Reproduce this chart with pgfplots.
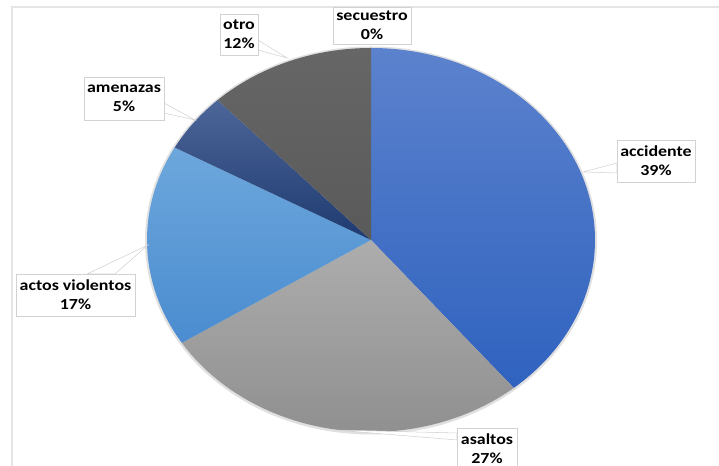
\documentclass[border=0pt]{standalone}
\usepackage{fontspec}
\setmainfont{Carlito}[FakeStretch=1.17]
\usepackage{pgfplots}
\pgfplotsset{compat=1.18}
\usepackage{pgfplotstable}

% slice colours: top / bottom of a vertical gradient
\definecolor{slice0T}{HTML}{5C82CD}
\definecolor{slice0B}{HTML}{2F62BF}
\definecolor{slice1T}{HTML}{ADADAD}
\definecolor{slice1B}{HTML}{8E8E8E}
\definecolor{slice2T}{HTML}{6DA7DC}
\definecolor{slice2B}{HTML}{4A8CD0}
\definecolor{slice3T}{HTML}{4D6699}
\definecolor{slice3B}{HTML}{1E3A70}
\definecolor{slice4T}{HTML}{666666}
\definecolor{slice4B}{HTML}{5A5A5A}

\tikzset{lbl/.style={draw=gray!35, fill=white, align=center, inner sep=1pt,
    font=\bfseries\fontsize{11.5}{14.3}\selectfont}}

% value in percent; lx ly bw bh = label box (axis units = px)
\pgfplotstableread{
cat value lx ly bw bh
accidente 39 656 305 58.5 31.5
asaltos 27 487 17 45 31.5
{actos violentos} 17 75.5 171 89 31.5
amenazas 5 124 367.5 60 32
otro 12 239 431.5 28.5 30.75
secuestro 0 372 440.5 58.5 27.75
}\piedata

\begin{document}
\begin{tikzpicture}
\begin{axis}[
    scale only axis,
    width=539.25pt, height=349.5pt,
    xmin=0, xmax=719, ymin=0, ymax=466,
    hide axis,
  ]
  % chart frame
  \draw[gray!20, line width=1pt] (axis cs:12,0) -- (axis cs:12,459) -- (axis cs:719,459);
  % soft edge of the pie
  \fill[black!12] (axis cs:371,225.5) ellipse[x radius=169.5pt, y radius=145.5pt];
  % slices
  \def\cum{0}
  \pgfplotsforeachungrouped \i in {0,...,4}{%
    \pgfplotstablegetelem{\i}{value}\of\piedata
    \pgfmathsetmacro\a{90-3.6*\cum}
    \pgfmathsetmacro\cum{\cum+\pgfplotsretval}
    \pgfmathsetmacro\b{90-3.6*\cum}
    \pgfmathsetmacro\px{371+224*cos(\a)}
    \pgfmathsetmacro\py{226+192*sin(\a)}
    \edef\temp{\noexpand\shade[top color=slice\i T, bottom color=slice\i B]
      (axis cs:371,226) -- (axis cs:\px,\py)
      arc[start angle=\a, end angle=\b, x radius=168pt, y radius=144pt] -- cycle;}%
    \temp
  }
  % leader wedges
  \filldraw[draw=gray!35, fill=white] (axis cs:583,294) -- (axis cs:617,303) -- (axis cs:617,293) -- cycle;
  \filldraw[draw=gray!35, fill=white] (axis cs:335,36) -- (axis cs:457,33) -- (axis cs:457,26) -- cycle;
  \filldraw[draw=gray!35, fill=white] (axis cs:148,221) -- (axis cs:87,192) -- (axis cs:115,192) -- cycle;
  \filldraw[draw=gray!35, fill=white] (axis cs:195,346) -- (axis cs:164,363) -- (axis cs:164,353) -- cycle;
  \filldraw[draw=gray!35, fill=white] (axis cs:287,408) -- (axis cs:258,426) -- (axis cs:258,416) -- cycle;
  % labels
  \pgfplotsforeachungrouped \i in {0,...,5}{%
    \pgfplotstablegetelem{\i}{cat}\of\piedata \let\lab\pgfplotsretval
    \pgfplotstablegetelem{\i}{value}\of\piedata \let\val\pgfplotsretval
    \pgfplotstablegetelem{\i}{lx}\of\piedata \let\lx\pgfplotsretval
    \pgfplotstablegetelem{\i}{ly}\of\piedata \let\ly\pgfplotsretval
    \pgfplotstablegetelem{\i}{bw}\of\piedata \let\bw\pgfplotsretval
    \pgfplotstablegetelem{\i}{bh}\of\piedata \let\bh\pgfplotsretval
    \edef\temp{\noexpand\node[lbl, minimum width=\bw pt, minimum height=\bh pt]
      at (axis cs:\lx,\ly) {\lab\noexpand\\\val\noexpand\%};}%
    \temp
  }
\end{axis}
\pgfresetboundingbox
\path[use as bounding box] (current axis.south west) rectangle (current axis.north east);
\end{tikzpicture}
\end{document}
